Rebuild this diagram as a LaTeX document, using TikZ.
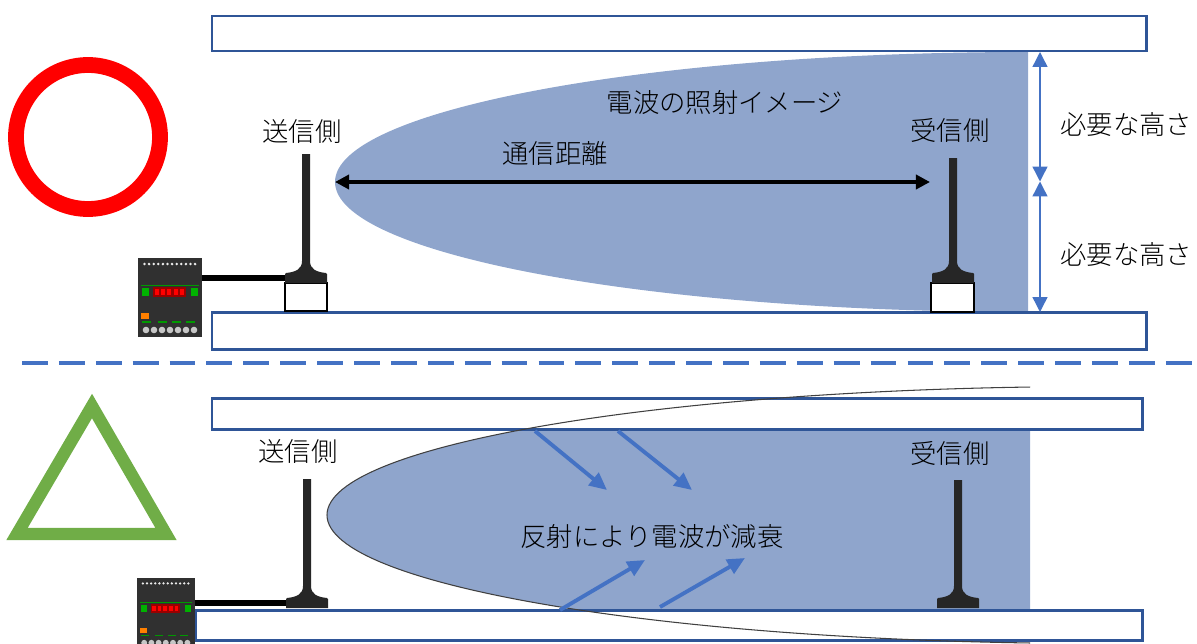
\documentclass[tikz,border=0pt]{standalone}
\usepackage{fontspec}
\newfontfamily\jp{Noto Sans CJK JP Light}
\usetikzlibrary{arrows.meta}

\definecolor{wallblue}{RGB}{47,85,151}
\definecolor{beamblue}{RGB}{143,165,204}
\definecolor{lineblue}{RGB}{68,114,196}
\definecolor{okred}{RGB}{255,0,0}
\definecolor{fairgreen}{RGB}{112,173,71}
\definecolor{poledark}{RGB}{38,38,38}
\definecolor{ctlgray}{RGB}{48,48,48}

\tikzset{
    wall/.style={draw=wallblue, line width=1.7pt, fill=white},
    mount/.style={draw=black, line width=1.3pt, fill=white},
    label/.style={font=\jp\fontsize{15pt}{15pt}\selectfont, inner sep=0pt},
    cable/.style={line width=3.4pt},
    span/.style={line width=2.2pt, {Triangle[length=8pt,width=8pt]}-{Triangle[length=8pt,width=8pt]}},
    gauge/.style={draw=lineblue, line width=0.8pt, {Triangle[length=8.5pt,width=8.5pt]}-{Triangle[length=8.5pt,width=8.5pt]}},
    bounce/.style={draw=lineblue, line width=2.2pt, -{Triangle[length=10pt,width=9pt]}},
    divider/.style={draw=lineblue, line width=2pt, dash pattern=on 14.7pt off 6.3pt},
    beamedge/.style={draw=black!75, line width=0.6pt},
    pics/antenna/.style={code={
        \fill[poledark] (-4,-#1) -- (4,-#1) -- (4,-22)
            .. controls (4,-14) and (10,-11) .. (20,-10) -- (21,-9) -- (21,0) -- (-21,0) -- (-21,-9) -- (-20,-10)
            .. controls (-10,-11) and (-4,-14) .. (-4,-22) -- cycle;
        \coordinate (-port) at (-21,-5);
    }},
    pics/controller/.style={code={
        \fill[ctlgray] (0,0) rectangle (64,79);
        \foreach \i in {0,...,11}
            \fill[white!85!gray] (6.5+4.6*\i,6) circle [radius=1.4];
        \draw[green!60!black, line width=0.3pt] (3,27) -- (61,27);
        \fill[red!60!black] (15,29) rectangle (48,39);
        \foreach \i in {0,...,4}
            \fill[red] (17+6.2*\i,31) rectangle (21+6.2*\i,37);
        \fill[green!70!black] (4,30) rectangle (11,38);
        \fill[green!70!black] (53,30) rectangle (60,38);
        \fill[orange] (3,55) rectangle (11,61);
        \foreach \x in {4,20,34,48}
            \fill[green!60!black] (\x,63) rectangle (\x+9,64.5);
        \foreach \i in {0,...,6}
            \fill[gray!45] (8+8*\i,72) circle [radius=3.3];
        \coordinate (-east) at (64,20);
    }}
}

\begin{document}
\begin{tikzpicture}[x=0.02cm, y=-0.02cm]

    \useasboundingbox (0,0) rectangle (1197,643);
    \clip (0,0) rectangle (1197,643);

    \draw[okred, line width=9pt] (88,137) circle [radius=72];
    \draw[fairgreen, line width=7pt, line join=miter] (92,406) -- (17,534) -- (166,534) -- cycle;

    \begin{scope}
        \clip (0,52) rectangle (1028,312);
        \fill[beamblue] (1028,182) ellipse [x radius=693, y radius=130];
    \end{scope}
    \draw[wall] (212,16) rectangle (1146,51);
    \draw[wall] (212,312) rectangle (1146,349);

    \draw[mount] (285,283) rectangle (327,311);
    \draw[mount] (931,283) rectangle (974,312);

    \pic (txa) at (306,283) {antenna=129};
    \pic (rxa) at (953,283) {antenna=125};
    \pic (ctla) at (138,258) {controller};
    \draw[cable] (ctla-east |- txa-port) -- (txa-port);

    \coordinate (beamtip) at (335,182);
    \coordinate (rxfront) at (930,182);
    \draw[span] (beamtip) -- (rxfront);

    \coordinate (h0) at (1040,52);
    \coordinate (h1) at (1040,181.5);
    \coordinate (h2) at (1040,312);
    \draw[gauge] (h0) -- (h1);
    \draw[gauge] (h1) -- (h2);

    \node[label] (txla) at (302,132) {送信側};
    \node[label] (rxla) at (950,130) {受信側};
    \node[label] (beamla) at (725,103) {電波の照射イメージ};
    \node[label] (spanla) at (555,153) {通信距離};
    \node[label, anchor=west] (upperla) at (1060,125) {必要な高さ};
    \node[label, anchor=west] (lowerla) at (1060,255) {必要な高さ};

    \draw[divider] (22,363) -- (1197,363);

    \begin{scope}
        \clip (0,429) rectangle (1030,610);
        \fill[beamblue] (1100,515) ellipse [x radius=773, y radius=128.5];
    \end{scope}
    \draw[wall] (212,398) rectangle (1142,429);
    \draw[wall] (196,610) rectangle (1142,640);
    \begin{scope}
        \clip (0,380) rectangle (1030,643);
        \draw[beamedge] (1100,515) ellipse [x radius=773, y radius=128.5];
    \end{scope}

    \pic (txb) at (307,608) {antenna=129};
    \pic (rxb) at (958,608) {antenna=128};
    \pic[scale=0.9] (ctlb) at (137,578) {controller};
    \draw[cable] (ctlb-east |- txb-port) -- (txb-port);

    \coordinate (r1a) at (535,431);
    \coordinate (r1b) at (607,490);
    \coordinate (r2a) at (618,431);
    \coordinate (r2b) at (692,490);
    \coordinate (r3a) at (560,610);
    \coordinate (r3b) at (645,560);
    \coordinate (r4a) at (660,607);
    \coordinate (r4b) at (745,558);
    \draw[bounce] (r1a) -- (r1b);
    \draw[bounce] (r2a) -- (r2b);
    \draw[bounce] (r3a) -- (r3b);
    \draw[bounce] (r4a) -- (r4b);

    \node[label] (txlb) at (298,452) {送信側};
    \node[label] (rxlb) at (950,453) {受信側};
    \node[label] (lossla) at (652,537) {反射により電波が減衰};

\end{tikzpicture}
\end{document}
